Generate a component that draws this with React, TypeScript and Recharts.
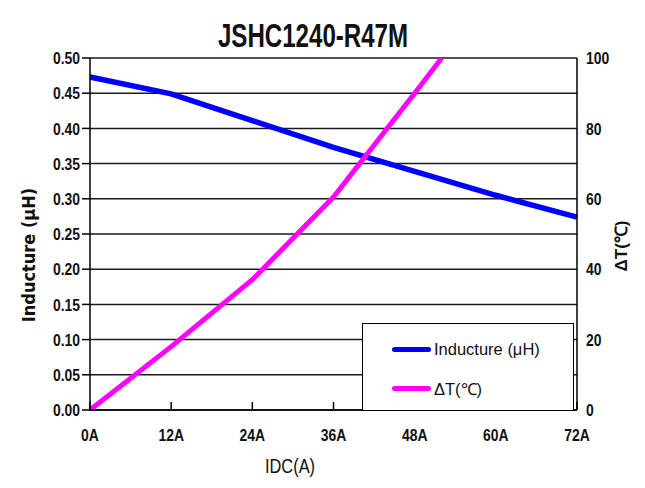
import { LineChart, Line, XAxis, YAxis, CartesianGrid, Legend } from 'recharts'

// inductance curve, read at every 12A
const currents = [0, 12, 24, 36, 48, 60, 72]
const inductance = [0.473, 0.449, 0.411, 0.373, 0.339, 0.305, 0.274]

// temperature rise, the curve leaves the plot at the top near 52A
const tempCurrents = [0, 12, 24, 36, 48, 52]
const tempRise = [0, 18, 37, 60.5, 90, 100]

const xTicks = [0, 12, 24, 36, 48, 60, 72]
const leftTicks = [0, 0.05, 0.1, 0.15, 0.2, 0.25, 0.3, 0.35, 0.4, 0.45, 0.5]
const rightTicks = [0, 20, 40, 60, 80, 100]

const SANS = "'Liberation Sans', Arial, sans-serif"
const COND = "'DejaVu Sans Condensed', 'Liberation Sans', sans-serif"
const NARROW_X = 0.82 // Liberation Sans squeezed to look like Arial Narrow

const inductData = currents.map((c, i) => ({ idc: c, l: inductance[i] }))
const tempData = tempCurrents.map((c, i) => ({ idc: c, t: tempRise[i] }))

function NarrowLabel({ x, y, anchor, dy, text }: any) {
  return (
    <text
      transform={`translate(${x},${y}) scale(${NARROW_X},1)`}
      textAnchor={anchor}
      dy={dy}
      fontFamily={SANS}
      fontWeight={700}
      fontSize={17}
      fill="#111"
    >
      {text}
    </text>
  )
}

function XTick({ x, y, payload }: any) {
  const axisY = y - 19
  return (
    <g>
      <line x1={x} x2={x} y1={axisY} y2={axisY - 8} stroke="#000" strokeWidth={1.5} />
      <NarrowLabel x={x} y={y} anchor="middle" dy="0.71em" text={`${payload.value}A`} />
    </g>
  )
}

function LeftTick({ x, y, payload }: any) {
  return <NarrowLabel x={x} y={y} anchor="end" dy="0.36em" text={payload.value.toFixed(2)} />
}

function RightTick({ x, y, payload }: any) {
  return <NarrowLabel x={x} y={y} anchor="start" dy="0.36em" text={String(payload.value)} />
}

function LegendBox({ payload }: any) {
  return (
    <div
      style={{
        position: 'relative',
        width: 212,
        height: 88,
        boxSizing: 'border-box',
        border: '1.5px solid #000',
        background: '#fff',
      }}
    >
      {(payload || []).map((p: any, i: number) => (
        <div key={p.value} style={{ position: 'absolute', left: 29, top: 13 + i * 39, height: 24, display: 'flex', alignItems: 'center' }}>
          <span style={{ width: 39, height: 5, borderRadius: 3, background: p.color, display: 'inline-block' }} />
          <span style={{ marginLeft: 3, fontSize: 16.5, fontFamily: SANS, color: '#111' }}>{p.value}</span>
        </div>
      ))}
    </div>
  )
}

export default function App() {
  return (
    <div style={{ position: 'absolute', left: 0, top: 0, width: 645, height: 488, background: '#fff' }}>
      <div
        style={{
          position: 'absolute',
          left: 313,
          top: 19,
          transform: `translateX(-50%) scaleX(0.73)`,
          whiteSpace: 'nowrap',
          fontFamily: SANS,
          fontWeight: 700,
          fontSize: 33,
          lineHeight: '33px',
          color: '#111',
        }}
      >
        JSHC1240-R47M
      </div>
      <div
        style={{
          position: 'absolute',
          left: 28,
          top: 255,
          transform: 'translate(-50%, -50%) rotate(-90deg)',
          whiteSpace: 'nowrap',
          fontFamily: COND,
          fontWeight: 700,
          fontSize: 18,
          color: '#111',
        }}
      >
        Inducture (μH)
      </div>
      <div
        style={{
          position: 'absolute',
          left: 620,
          top: 246,
          transform: 'translate(-50%, -50%) rotate(-90deg)',
          whiteSpace: 'nowrap',
          fontFamily: SANS,
          fontWeight: 700,
          fontSize: 17,
          color: '#111',
        }}
      >
        ΔT(℃)
      </div>
      <div
        style={{
          position: 'absolute',
          left: 290,
          top: 466,
          transform: `translate(-50%, -50%) scaleX(${NARROW_X})`,
          whiteSpace: 'nowrap',
          fontFamily: SANS,
          fontSize: 20,
          color: '#111',
        }}
      >
        IDC(A)
      </div>
      <LineChart width={645} height={488} margin={{ top: 58, right: 28, bottom: 48, left: 30 }}>
        <CartesianGrid yAxisId="L" vertical={false} stroke="#1a1a1a" strokeWidth={1.5} />
        <XAxis
          dataKey="idc"
          type="number"
          domain={[0, 72]}
          ticks={xTicks}
          allowDuplicatedCategory={false}
          height={30}
          tickSize={0}
          tickMargin={19}
          tickLine={false}
          axisLine={{ stroke: '#000', strokeWidth: 1.5 }}
          tick={<XTick />}
        />
        <YAxis
          yAxisId="L"
          domain={[0, 0.5]}
          ticks={leftTicks}
          width={60}
          tickSize={8}
          tickMargin={2}
          tickLine={{ stroke: '#000', strokeWidth: 1.5 }}
          axisLine={{ stroke: '#000', strokeWidth: 1.5 }}
          tick={<LeftTick />}
        />
        <YAxis
          yAxisId="R"
          orientation="right"
          domain={[0, 100]}
          allowDataOverflow
          ticks={rightTicks}
          width={40}
          tickSize={8}
          tickMargin={1}
          tickLine={false}
          axisLine={{ stroke: '#000', strokeWidth: 1.5 }}
          tick={<RightTick />}
        />
        <Legend
          layout="horizontal"
          verticalAlign="middle"
          align="center"
          content={<LegendBox />}
          wrapperStyle={{ position: 'absolute', left: 362, top: 323, width: 212, height: 88 }}
        />
        <Line
          yAxisId="L"
          data={inductData}
          dataKey="l"
          name="Inducture (μH)"
          type="linear"
          stroke="#0000ff"
          strokeWidth={5.5}
          dot={false}
          isAnimationActive={false}
        />
        <Line
          yAxisId="R"
          data={tempData}
          dataKey="t"
          name="ΔT(℃)"
          type="linear"
          stroke="#ff00ff"
          strokeWidth={5}
          dot={false}
          isAnimationActive={false}
        />
      </LineChart>
    </div>
  )
}
